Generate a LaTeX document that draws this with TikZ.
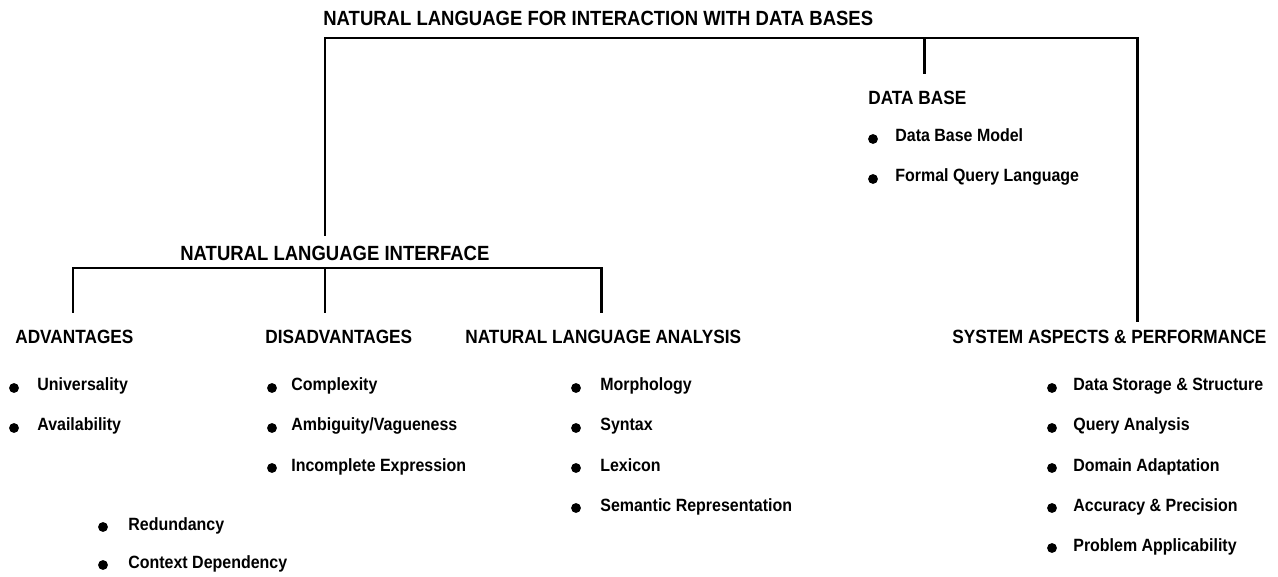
\documentclass[tikz,border=0pt]{standalone}
\usepackage{fontspec}
\setmainfont{Liberation Sans}[FakeStretch=0.9]
\usetikzlibrary{positioning}

\begin{document}
\begin{tikzpicture}[
  x=0.02cm, y=-0.02cm,
  ttl/.style={font=\bfseries\fontsize{11.7}{13}\selectfont, inner sep=0pt, anchor=base west},
  hdg/.style={font=\bfseries\fontsize{10.9}{12}\selectfont, inner sep=0pt, anchor=base west},
  itm/.style={font=\bfseries\fontsize{10.1}{12}\selectfont, inner sep=0pt, anchor=base west},
  dot/.style={circle, fill=black, inner sep=0pt, minimum size=5.6pt},
  link/.style={draw=black, line width=1.7pt}
]
\useasboundingbox (0,0) rectangle (1278,577);

% headings
\node[ttl] (root) at (323, 26) {NATURAL LANGUAGE FOR INTERACTION WITH DATA BASES};
\node[hdg] (db) at (868, 105) {DATA BASE};
\node[ttl] (nli) at (180, 261) {NATURAL LANGUAGE INTERFACE};
\node[hdg] (adv) at (15, 344) {ADVANTAGES};
\node[hdg] (dis) at (265, 344) {DISADVANTAGES};
\node[hdg] (nla) at (465, 344) {NATURAL LANGUAGE ANALYSIS};
\node[hdg] (sap) at (952, 344) {SYSTEM ASPECTS \& PERFORMANCE};

% bracket corners
\coordinate (rootL) at (325, 38);
\coordinate (rootR) at (1137, 38);
\coordinate (rootM) at (924, 38);
\coordinate (dbTop) at (924, 74);
\coordinate (nliTop) at (325, 236);
\coordinate (sapTop) at (1137, 322);
\coordinate (nliL) at (73, 268);
\coordinate (nliM) at (325, 268);
\coordinate (nliR) at (601, 268);
\coordinate (advTop) at (73, 313);
\coordinate (disTop) at (325, 313);
\coordinate (nlaTop) at (601, 313);

\draw[link] (nliTop) -- (rootL) -- (rootR) -- (sapTop);
\draw[link] (rootM) -- (dbTop);
\draw[link] (advTop) -- (nliL) -- (nliR) -- (nlaTop);
\draw[link] (nliM) -- (disTop);

% data base
\node[dot] (dbmdot) at (873, 139) {};
\node[itm] (dbm) at (895, 142) {Data Base Model};
\node[dot] (dbqdot) at (873, 179) {};
\node[itm] (dbq) at (895, 182) {Formal Query Language};

% advantages
\node[dot] (adv1dot) at (14, 388) {};
\node[itm] (adv1) at (37, 391) {Universality};
\node[dot] (adv2dot) at (14, 428) {};
\node[itm] (adv2) at (37, 431) {Availability};

% disadvantages
\node[dot] (dis1dot) at (272, 388) {};
\node[itm] (dis1) at (291, 391) {Complexity};
\node[dot] (dis2dot) at (272, 428) {};
\node[itm] (dis2) at (291, 431) {Ambiguity/Vagueness};
\node[dot] (dis3dot) at (272, 468) {};
\node[itm] (dis3) at (291, 471) {Incomplete Expression};
\node[dot] (reddot) at (103, 527) {};
\node[itm] (red) at (128, 530) {Redundancy};
\node[dot] (ctxdot) at (103, 565) {};
\node[itm] (ctx) at (128, 568) {Context Dependency};

% analysis
\node[dot] (nla1dot) at (576, 388) {};
\node[itm] (nla1) at (600, 391) {Morphology};
\node[dot] (nla2dot) at (576, 428) {};
\node[itm] (nla2) at (600, 431) {Syntax};
\node[dot] (nla3dot) at (576, 468) {};
\node[itm] (nla3) at (600, 471) {Lexicon};
\node[dot] (nla4dot) at (576, 508) {};
\node[itm] (nla4) at (600, 511) {Semantic Representation};

% system aspects
\node[dot] (sap1dot) at (1052, 388) {};
\node[itm] (sap1) at (1073, 391) {Data Storage \& Structure};
\node[dot] (sap2dot) at (1052, 428) {};
\node[itm] (sap2) at (1073, 431) {Query Analysis};
\node[dot] (sap3dot) at (1052, 468) {};
\node[itm] (sap3) at (1073, 471) {Domain Adaptation};
\node[dot] (sap4dot) at (1052, 508) {};
\node[itm] (sap4) at (1073, 511) {Accuracy \& Precision};
\node[dot] (sap5dot) at (1052, 548) {};
\node[itm] (sap5) at (1073, 551) {Problem Applicability};

\end{tikzpicture}
\end{document}
